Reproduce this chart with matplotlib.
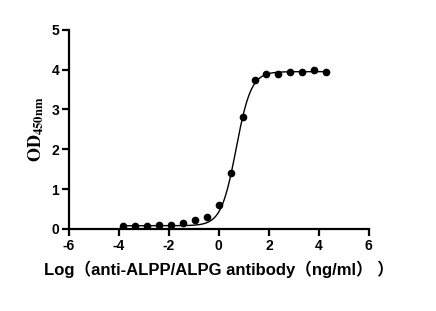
import numpy as np
import matplotlib
matplotlib.use("Agg")
import matplotlib.pyplot as plt

plt.rcParams['font.family'] = ['Liberation Sans', 'Noto Sans CJK SC']
plt.rcParams['mathtext.fontset'] = 'stix'
plt.rcParams['axes.unicode_minus'] = False

# measured points (log concentration, OD450)
log_conc = [-3.83, -3.36, -2.87, -2.39, -1.92, -1.43, -0.95, -0.47, 0.01,
            0.49, 0.97, 1.43, 1.89, 2.37, 2.85, 3.33, 3.81, 4.29]
od450 = [0.08, 0.08, 0.08, 0.10, 0.10, 0.14, 0.22, 0.30, 0.60,
         1.40, 2.81, 3.74, 3.89, 3.89, 3.94, 3.94, 3.99, 3.94]

# 4PL fit parameters
bottom, top, log_ec50, hill = 0.08, 3.95, 0.69, 1.45

xticks = [-6, -4, -2, 0, 2, 4, 6]
yticks = [0, 1, 2, 3, 4, 5]

fig = plt.figure(figsize=(4.36, 3.11), dpi=100)
ax = fig.add_axes([0.158, 0.264, 0.688, 0.640])

xs = np.linspace(min(log_conc), max(log_conc), 300)
fit = bottom + (top - bottom) / (1 + 10 ** ((log_ec50 - xs) * hill))
ax.plot(xs, fit, color='black', lw=1.0)
ax.plot(log_conc, od450, 'o', color='black', ms=4.5)

ax.set_xlim(-6, 6)
ax.set_ylim(0, 5)
ax.set_xticks(xticks)
ax.set_yticks(yticks)
for s in ['top', 'right']:
    ax.spines[s].set_visible(False)
for s in ['left', 'bottom']:
    ax.spines[s].set_linewidth(1.6)
ax.tick_params(direction='out', length=5, width=1.6, labelsize=10, pad=2)
for lab in ax.get_xticklabels() + ax.get_yticklabels():
    lab.set_fontweight('bold')

ax.set_xlabel('Log（anti-ALPP/ALPG antibody（ng/ml） ）', fontsize=12,
              fontweight='bold', labelpad=6)
ax.set_ylabel(r'$\mathbf{OD}_{\mathbf{450nm}}$', fontsize=13, labelpad=4)

fig.savefig('out.png', dpi=100)
